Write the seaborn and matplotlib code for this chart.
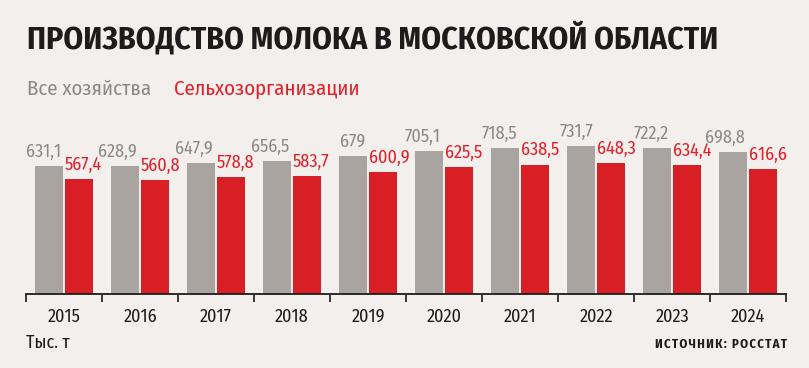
import matplotlib
matplotlib.use('Agg')
import matplotlib.pyplot as plt
from matplotlib import font_manager
from matplotlib.ticker import FixedLocator
import pandas as pd
import seaborn as sns

years = ['2015', '2016', '2017', '2018', '2019', '2020', '2021', '2022', '2023', '2024']
all_farms = [631.1, 628.9, 647.9, 656.5, 679, 705.1, 718.5, 731.7, 722.2, 698.8]
agri_orgs = [567.4, 560.8, 578.8, 583.7, 600.9, 625.5, 638.5, 648.3, 634.4, 616.6]
series_names = ['Все хозяйства', 'Сельхозорганизации']

BG = '#f2efec'
GRAY = '#a9a4a0'
RED = '#d81f26'
GRAY_TEXT = '#8d8985'
RED_TEXT = '#e3202a'
DARK = '#1e1b1d'
W, H = 809, 368


def pick_font(candidates):
    installed = {f.name for f in font_manager.fontManager.ttflist}
    for name in candidates:
        if name in installed:
            return name
    return 'DejaVu Sans'


def fmt(v):
    return f'{v:g}'.replace('.', ',')


def main():
    font = pick_font(['Fira Sans Condensed', 'Roboto Condensed', 'Liberation Sans Narrow',
                      'Open Sans Condensed', 'Noto Sans', 'Roboto'])
    sns.set_style('white')
    plt.rcParams['font.family'] = [font, 'DejaVu Sans']

    df = pd.DataFrame({
        'year': years * 2,
        'series': [series_names[0]] * len(years) + [series_names[1]] * len(years),
        'value': all_farms + agri_orgs,
    })

    fig = plt.figure(figsize=(W / 100, H / 100), dpi=100, facecolor=BG)
    ax = fig.add_axes([26 / W, 74 / H, 760 / W, 164 / H])
    ax.set_facecolor(BG)

    sns.barplot(data=df, x='year', y='value', hue='series', palette=[GRAY, RED],
                width=0.78, gap=0.07, saturation=1, legend=False, linewidth=0, ax=ax)

    ax.set_xlim(-0.5, len(years) - 0.5)
    ax.set_ylim(0, 808.7)

    # value labels: gray ones flush right with the bar, red ones flush left
    for idx, cont in enumerate(ax.containers):
        for bar in cont:
            h = bar.get_height()
            if idx == 0:
                x, ha, col, dx = bar.get_x() + bar.get_width(), 'right', GRAY_TEXT, -1.5
            else:
                x, ha, col, dx = bar.get_x(), 'left', RED_TEXT, 0
            ax.annotate(fmt(h), (x, h), xytext=(dx, 6.5), textcoords='offset points',
                        ha=ha, va='baseline', fontsize=13, color=col)

    for s in ['left', 'right', 'top']:
        ax.spines[s].set_visible(False)
    ax.spines['bottom'].set_color(DARK)
    ax.spines['bottom'].set_linewidth(1.3)
    ax.set_yticks([])
    ax.set_xlabel('')
    ax.set_ylabel('')
    ax.xaxis.set_minor_locator(FixedLocator([i - 0.5 for i in range(len(years) + 1)]))
    ax.tick_params(axis='x', which='major', length=0, pad=10, labelsize=13, labelcolor=DARK)
    ax.tick_params(axis='x', which='minor', length=5.5, width=1.2, color=DARK, bottom=True)

    fig.text(27 / W, 1 - 48 / H, 'ПРОИЗВОДСТВО МОЛОКА В МОСКОВСКОЙ ОБЛАСТИ',
             fontsize=22.8, fontweight='bold', color=DARK, va='baseline', ha='left')
    fig.text(27 / W, 1 - 95 / H, series_names[0], fontsize=15, color=GRAY_TEXT,
             va='baseline', ha='left')
    fig.text(174 / W, 1 - 95 / H, series_names[1], fontsize=15, color=RED_TEXT,
             va='baseline', ha='left')
    fig.text(26 / W, 1 - 348 / H, 'Тыс. т', fontsize=13, color=DARK, va='baseline', ha='left')
    # letter-spaced source line
    source = '\u200a'.join('ИСТОЧНИК: РОССТАТ')
    fig.text(787 / W, 1 - 348 / H, source, fontsize=9.2, fontweight='bold',
             color=DARK, va='baseline', ha='right')

    fig.savefig('out.png', dpi=100, facecolor=BG)


if __name__ == '__main__':
    main()
